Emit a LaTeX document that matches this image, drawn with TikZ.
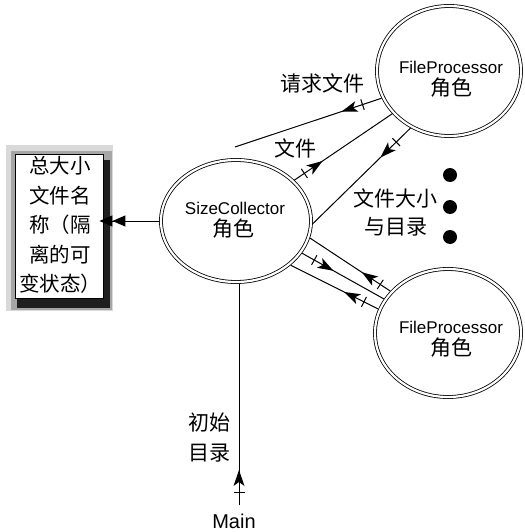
\documentclass[tikz,border=0pt]{standalone}
\usepackage{fontspec}
\setmainfont{Liberation Sans}
\newfontfamily\zh{Noto Sans CJK SC}
\usetikzlibrary{arrows.meta,decorations.markings,shapes.geometric}
\begin{document}
\begin{tikzpicture}[x=1pt,y=-1pt,
  actor/.style={ellipse, draw, line width=0.8pt, double, double distance=2.2pt, outer sep=1.9pt, inner sep=0pt},
  msgline/.style={line width=1pt, postaction={decorate}, decoration={markings, mark=at position #1 with {\draw[line width=1pt] (0pt,-5.5pt) -- (0pt,5.5pt); \fill (22pt,0pt) -- (6pt,5.5pt) -- (10pt,0pt) -- (6pt,-5.5pt) -- cycle;}}},
  zhlabel/.style={font=\zh\fontsize{21pt}{21pt}\selectfont, inner sep=0pt},
  enlabel/.style={font=\fontsize{17pt}{17pt}\selectfont, inner sep=0pt},
  dotmark/.style={fill=black}
]
\useasboundingbox (0,0) rectangle (524,532);

% state box with shadow
\fill[black!15] (6,145) rectangle (113,311);
\fill[black!35] (11,151) rectangle (112,310);
\fill[black!88] (17,160) rectangle (110,308);
\node[draw, fill=white, line width=0.9pt, minimum width=88pt, minimum height=144pt, inner sep=0pt] (box) at (59,226) {};
\node[font=\zh\fontsize{20.5pt}{29.5pt}\selectfont, align=center, inner sep=0pt] (boxtext) at (60,225) {总大小\\文件名\\称（隔\\离的可\\变状态）};

% actors
\node[actor, minimum width=150pt, minimum height=122pt] (sc) at (236,221) {};
\node[enlabel] (sct1) at (235,208) {SizeCollector};
\node[zhlabel] (sct2) at (233,229) {角色};

\node[actor, minimum width=144pt, minimum height=130pt] (fp1) at (449,71) {};
\node[enlabel] (fp1t1) at (451,67) {FileProcessor};
\node[zhlabel] (fp1t2) at (451,88) {角色};

\node[actor, minimum width=146pt, minimum height=128pt] (fp2) at (448,333) {};
\node[enlabel] (fp2t1) at (451,327) {FileProcessor};
\node[zhlabel] (fp2t2) at (451,348) {角色};

% free ends
\coordinate (q1) at (235,147);
\coordinate (mainend) at (239,505);

% connectors
\draw[msgline=20pt] (fp1.202) -- (q1);
\draw[msgline=12pt] (sc.35) -- (fp1.217.6);
\draw[msgline=20pt] (fp1.236.5) -- (sc.358.5);
\draw[msgline=12pt] (fp2.144.7) -- (sc.-13.3);
\draw[msgline=14pt] (sc.-26.6) -- (fp2.152.1);
\draw[msgline=16pt] (fp2.161.8) -- (sc.-39.2);
\draw[msgline=13pt] (mainend) -- (mainend |- sc.south);
\draw[line width=1pt, shorten >=-4pt, -{Triangle[length=13pt,width=11pt] Triangle[length=13pt,width=11pt]}] (sc.west) -- (box.east |- sc.west);

% labels
\node[zhlabel] (l1) at (322,83) {请求文件};
\node[zhlabel] (l2) at (295,148) {文件};
\node[zhlabel] (l3) at (395,198) {文件大小};
\node[zhlabel] (l4) at (396,227) {与目录};
\node[zhlabel] (l5) at (209,423) {初始};
\node[zhlabel] (l6) at (209,453) {目录};
\node[font=\fontsize{20pt}{20pt}\selectfont, inner sep=0pt] (main) at (234,521) {Main};

% dots
\fill[dotmark] (450,175) circle (7pt);
\fill[dotmark] (450,207) circle (7pt);
\fill[dotmark] (450,237) circle (7pt);
\end{tikzpicture}
\end{document}
